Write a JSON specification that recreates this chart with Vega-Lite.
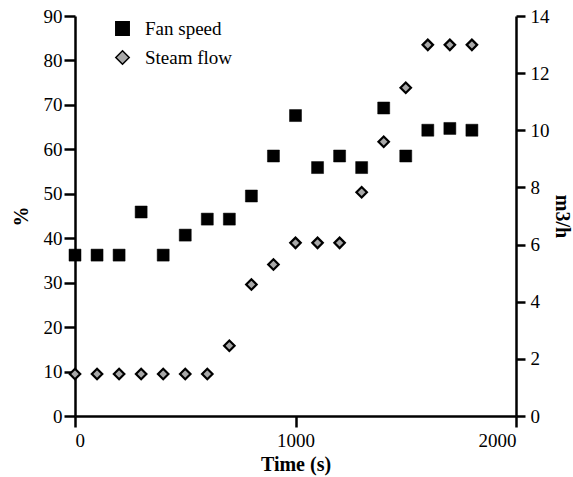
{
  "$schema": "https://vega.github.io/schema/vega-lite/v6.json",
  "width": 441,
  "height": 400,
  "autosize": {"type": "none"},
  "padding": {"left": 75, "top": 16, "right": 57, "bottom": 61},
  "background": "white",
  "config": {
    "view": {"stroke": null},
    "font": "Liberation Serif",
    "axis": {
      "labelFont": "Liberation Serif",
      "titleFont": "Liberation Serif",
      "labelFontSize": 19,
      "titleFontSize": 20,
      "titleFontWeight": "bold",
      "labelColor": "black",
      "titleColor": "black",
      "domainColor": "black",
      "tickColor": "black",
      "domainWidth": 2.5,
      "tickWidth": 2.5,
      "tickSize": 9,
      "grid": false
    },
    "legend": {
      "labelFont": "Liberation Serif",
      "labelFontSize": 19,
      "labelColor": "black"
    }
  },
  "data": {
    "values": [
      {"time": 0, "series": "Fan speed", "value": 36.2},
      {"time": 100, "series": "Fan speed", "value": 36.2},
      {"time": 200, "series": "Fan speed", "value": 36.2},
      {"time": 300, "series": "Fan speed", "value": 45.9},
      {"time": 400, "series": "Fan speed", "value": 36.2},
      {"time": 500, "series": "Fan speed", "value": 40.7},
      {"time": 600, "series": "Fan speed", "value": 44.3},
      {"time": 700, "series": "Fan speed", "value": 44.3},
      {"time": 800, "series": "Fan speed", "value": 49.5},
      {"time": 900, "series": "Fan speed", "value": 58.5},
      {"time": 1000, "series": "Fan speed", "value": 67.6},
      {"time": 1100, "series": "Fan speed", "value": 55.9},
      {"time": 1200, "series": "Fan speed", "value": 58.5},
      {"time": 1300, "series": "Fan speed", "value": 55.9},
      {"time": 1400, "series": "Fan speed", "value": 69.3},
      {"time": 1500, "series": "Fan speed", "value": 58.5},
      {"time": 1600, "series": "Fan speed", "value": 64.3},
      {"time": 1700, "series": "Fan speed", "value": 64.7},
      {"time": 1800, "series": "Fan speed", "value": 64.3},
      {"time": 0, "series": "Steam flow", "value": 1.47},
      {"time": 100, "series": "Steam flow", "value": 1.47},
      {"time": 200, "series": "Steam flow", "value": 1.47},
      {"time": 300, "series": "Steam flow", "value": 1.47},
      {"time": 400, "series": "Steam flow", "value": 1.47},
      {"time": 500, "series": "Steam flow", "value": 1.47},
      {"time": 600, "series": "Steam flow", "value": 1.47},
      {"time": 700, "series": "Steam flow", "value": 2.46},
      {"time": 800, "series": "Steam flow", "value": 4.6},
      {"time": 900, "series": "Steam flow", "value": 5.3},
      {"time": 1000, "series": "Steam flow", "value": 6.06},
      {"time": 1100, "series": "Steam flow", "value": 6.06},
      {"time": 1200, "series": "Steam flow", "value": 6.06},
      {"time": 1300, "series": "Steam flow", "value": 7.83},
      {"time": 1400, "series": "Steam flow", "value": 9.6},
      {"time": 1500, "series": "Steam flow", "value": 11.49},
      {"time": 1600, "series": "Steam flow", "value": 12.99},
      {"time": 1700, "series": "Steam flow", "value": 12.99},
      {"time": 1800, "series": "Steam flow", "value": 12.99}
    ]
  },
  "encoding": {
    "x": {
      "field": "time",
      "type": "quantitative",
      "scale": {"domain": [0, 2000], "nice": false},
      "axis": {"title": "Time (s)", "values": [0, 1000, 2000], "format": "d", "labelFont": "Liberation Serif", "labelFontSize": 19, "tickSize": 11, "labelPadding": 4, "titlePadding": 4}
    },
    "fill": {
      "field": "series",
      "type": "nominal",
      "scale": {"domain": ["Fan speed", "Steam flow"], "range": ["black", "#a8a8a8"]},
      "legend": {
        "title": null,
        "orient": "none",
        "legendX": 38,
        "legendY": 3,
        "padding": 0,
        "symbolSize": 180,
        "labelFont": "Liberation Serif",
        "labelFontSize": 19,
        "labelOffset": 13,
        "rowPadding": 8,
        "encode": {"symbols": {"update": {"stroke": {"value": "black"}, "strokeWidth": {"value": 2.5}}}}
      }
    },
    "shape": {
      "field": "series",
      "type": "nominal",
      "scale": {"domain": ["Fan speed", "Steam flow"], "range": ["square", "diamond"]},
      "legend": {
        "title": null,
        "orient": "none",
        "legendX": 38,
        "legendY": 3,
        "padding": 0,
        "symbolSize": 180,
        "labelFont": "Liberation Serif",
        "labelFontSize": 19,
        "labelOffset": 13,
        "rowPadding": 8,
        "encode": {"symbols": {"update": {"stroke": {"value": "black"}, "strokeWidth": {"value": 2.5}}}}
      }
    }
  },
  "layer": [
    {
      "transform": [{"filter": "datum.series === 'Fan speed'"}],
      "mark": {"type": "point", "filled": true, "size": 144, "stroke": "black", "strokeWidth": 0.5, "opacity": 1},
      "encoding": {
        "y": {
          "field": "value",
          "type": "quantitative",
          "scale": {"domain": [0, 90], "nice": false},
          "axis": {"title": "%", "orient": "left", "values": [0,10,20,30,40,50,60,70,80,90], "labelFont": "Liberation Serif", "labelFontSize": 19, "tickSize": 11, "labelPadding": 2, "titlePadding": 12}
        }
      }
    },
    {
      "transform": [{"filter": "datum.series === 'Steam flow'"}],
      "mark": {"type": "point", "filled": true, "size": 110, "stroke": "black", "strokeWidth": 2.2, "opacity": 1},
      "encoding": {
        "y": {
          "field": "value",
          "type": "quantitative",
          "scale": {"domain": [0, 14], "nice": false},
          "axis": {"title": "m3/h", "orient": "right", "values": [0,2,4,6,8,10,12,14], "labelFont": "Liberation Serif", "labelFontSize": 19, "labelPadding": 5, "titlePadding": 2}
        }
      }
    }
  ],
  "resolve": {"scale": {"y": "independent"}, "axis": {"y": "independent"}}
}
